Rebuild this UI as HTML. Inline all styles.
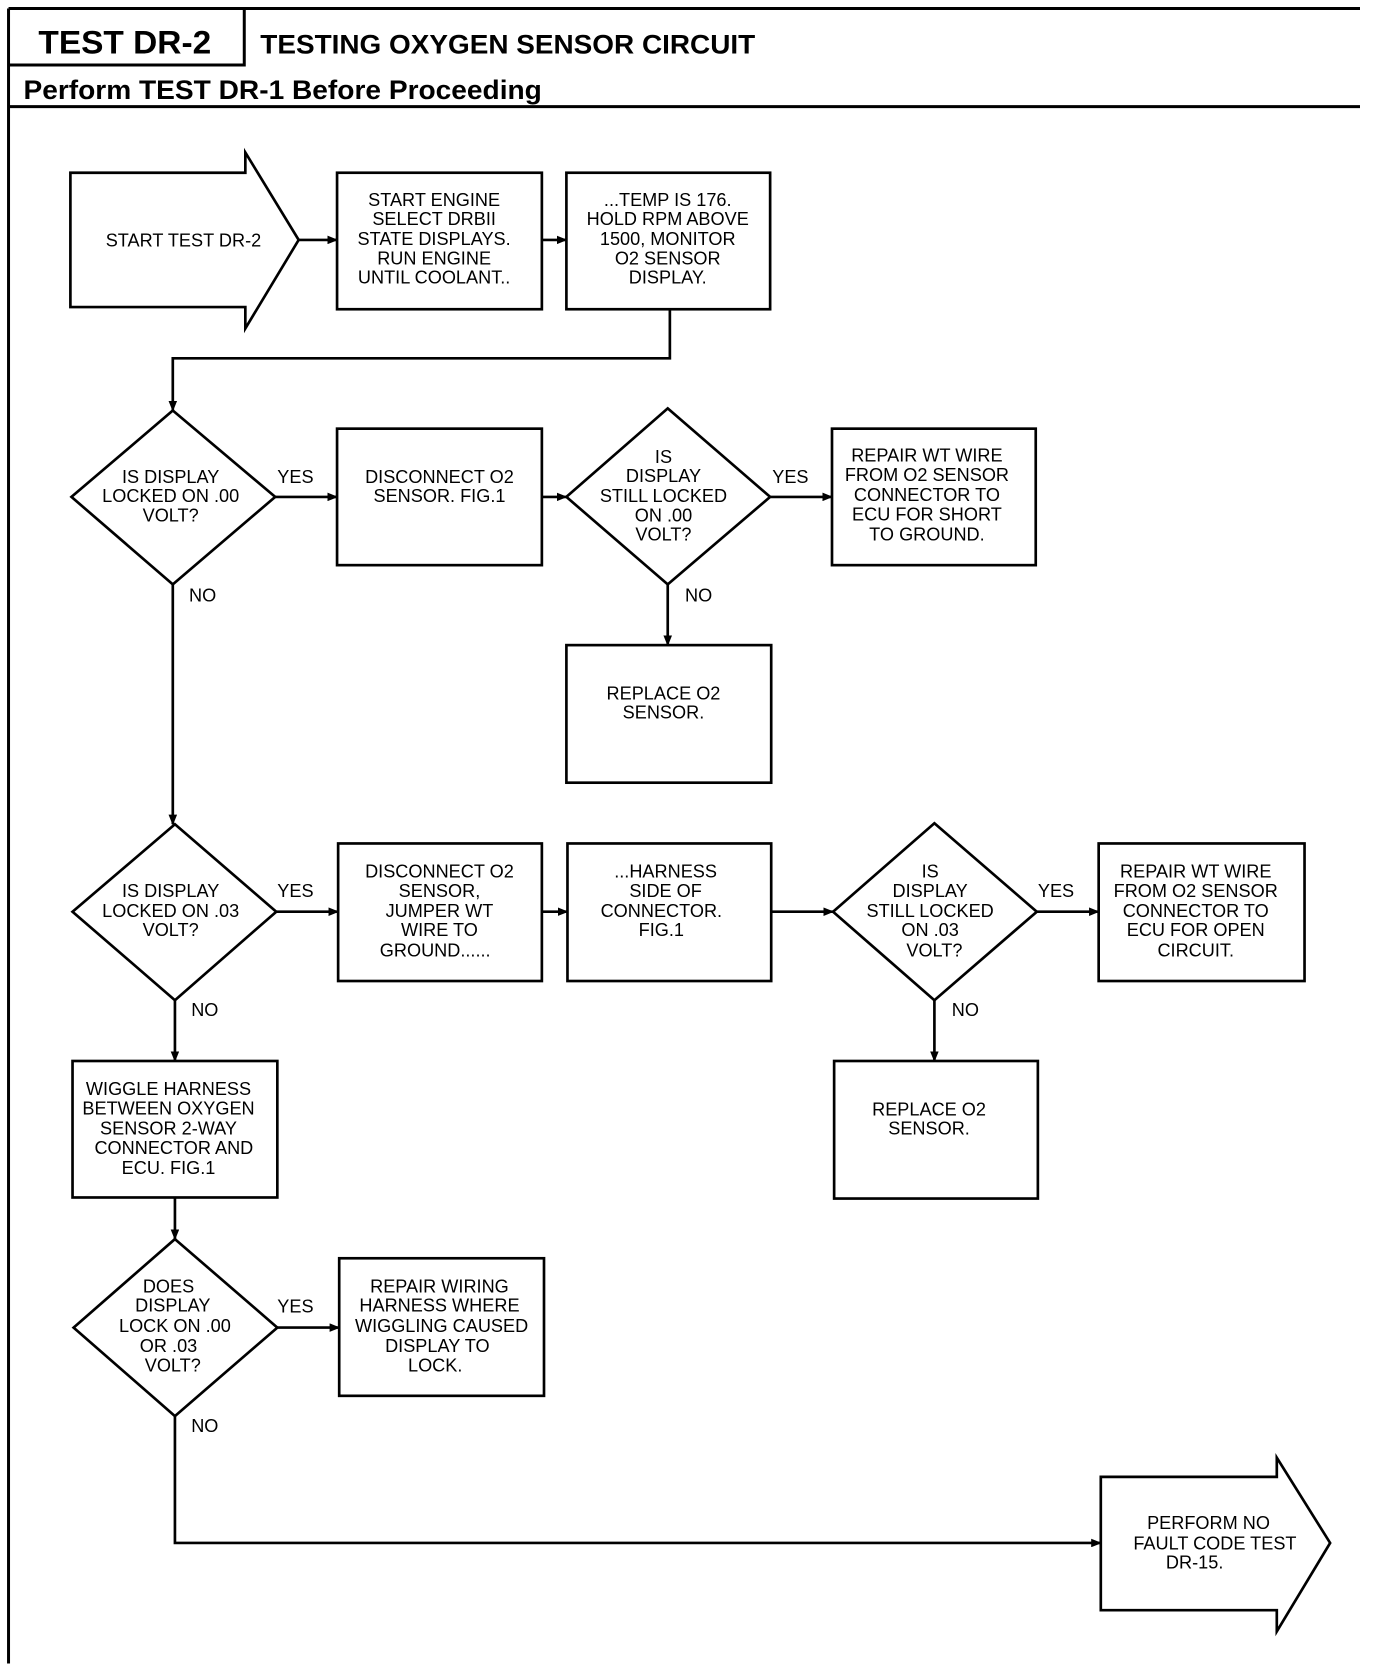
<!DOCTYPE html>
<html><head><meta charset="utf-8"><style>
html,body{margin:0;padding:0;background:#fff;}
svg{display:block;}
.t{font-family:"Liberation Sans",sans-serif;font-size:17px;text-anchor:middle;fill:#000;}
.h{font-family:"Liberation Sans",sans-serif;font-weight:bold;fill:#000;}
</style></head><body>
<svg width="1376" height="1672" viewBox="0 0 1290 1568" preserveAspectRatio="none" xmlns="http://www.w3.org/2000/svg">
<defs><marker id="a" markerWidth="10" markerHeight="8" refX="9" refY="4" orient="auto" markerUnits="userSpaceOnUse"><path d="M0,0 L10,4 L0,8 z" fill="#000"/></marker></defs>
<g stroke="#000" fill="none" stroke-width="2.5">
<path d="M8,8 H1275 M8,8 V1560 M8,100 H1275 M8,61 H229 V8" stroke-width="2.8"/>
<path d="M66,162 H230 V143 L280,225 L230,308 V288 H66 Z"/>
<rect x="316" y="162" width="192" height="128"/>
<rect x="531" y="162" width="191" height="128"/>
<path d="M280,225 H316" marker-end="url(#a)"/>
<path d="M508,225 H531" marker-end="url(#a)"/>
<path d="M628,290 V336 H162 V385" marker-end="url(#a)"/>
<path d="M162,385 L258,466 L162,548 L67,466 Z"/>
<path d="M258,466 H316" marker-end="url(#a)"/>
<rect x="316" y="402" width="192" height="128"/>
<path d="M508,466 H531" marker-end="url(#a)"/>
<path d="M626,383 L722,466 L626,548 L531,466 Z"/>
<path d="M722,466 H780" marker-end="url(#a)"/>
<rect x="780" y="402" width="191" height="128"/>
<path d="M626,548 V605" marker-end="url(#a)"/>
<rect x="531" y="605" width="192" height="129"/>
<path d="M162,548 V773" marker-end="url(#a)"/>
<path d="M164,773 L259,855 L164,938 L68,855 Z"/>
<path d="M259,855 H317" marker-end="url(#a)"/>
<rect x="317" y="791" width="191" height="129"/>
<path d="M508,855 H532" marker-end="url(#a)"/>
<rect x="532" y="791" width="191" height="129"/>
<path d="M723,855 H781" marker-end="url(#a)"/>
<path d="M876,772 L972,855 L876,938 L781,855 Z"/>
<path d="M972,855 H1030" marker-end="url(#a)"/>
<rect x="1030" y="791" width="193" height="129"/>
<path d="M876,938 V995" marker-end="url(#a)"/>
<rect x="782" y="995" width="191" height="129"/>
<path d="M164,938 V995" marker-end="url(#a)"/>
<rect x="68" y="995" width="192" height="128"/>
<path d="M164,1123 V1162" marker-end="url(#a)"/>
<path d="M164,1162 L260,1245 L164,1328 L69,1245 Z"/>
<path d="M260,1245 H318" marker-end="url(#a)"/>
<rect x="318" y="1180" width="192" height="129"/>
<path d="M164,1328 V1447 H1032" marker-end="url(#a)"/>
<path d="M1032,1385 H1197 V1367 L1247,1447 L1197,1530 V1510 H1032 Z"/>
</g>
<text class="h" x="36" y="50" font-size="30" textLength="162" lengthAdjust="spacingAndGlyphs">TEST DR-2</text>
<text class="h" x="244" y="50" font-size="25" textLength="464" lengthAdjust="spacingAndGlyphs">TESTING OXYGEN SENSOR CIRCUIT</text>
<text class="h" x="22" y="93" font-size="25" textLength="486" lengthAdjust="spacingAndGlyphs">Perform TEST DR-1 Before Proceeding</text>
<g class="t">
<text x="172" y="231">START TEST DR-2</text>
<text x="407" y="193">START ENGINE</text><text x="407" y="211">SELECT DRBII</text><text x="407" y="230">STATE DISPLAYS.</text><text x="407" y="248">RUN ENGINE</text><text x="407" y="266">UNTIL COOLANT..</text>
<text x="626" y="193">...TEMP IS 176.</text><text x="626" y="211">HOLD RPM ABOVE</text><text x="626" y="230">1500, MONITOR</text><text x="626" y="248">O2 SENSOR</text><text x="626" y="266">DISPLAY.</text>
<text x="160" y="453">IS DISPLAY</text><text x="160" y="471">LOCKED ON .00</text><text x="160" y="489">VOLT?</text>
<text x="277" y="453">YES</text><text x="190" y="564">NO</text>
<text x="412" y="453">DISCONNECT O2</text><text x="412" y="471">SENSOR. FIG.1</text>
<text x="622" y="434">IS</text><text x="622" y="452">DISPLAY</text><text x="622" y="471">STILL LOCKED</text><text x="622" y="489">ON .00</text><text x="622" y="507">VOLT?</text>
<text x="741" y="453">YES</text><text x="655" y="564">NO</text>
<text x="869" y="433">REPAIR WT WIRE</text><text x="869" y="451">FROM O2 SENSOR</text><text x="869" y="470">CONNECTOR TO</text><text x="869" y="488">ECU FOR SHORT</text><text x="869" y="507">TO GROUND.</text>
<text x="622" y="656">REPLACE O2</text><text x="622" y="674">SENSOR.</text>
<text x="160" y="841">IS DISPLAY</text><text x="160" y="860">LOCKED ON .03</text><text x="160" y="878">VOLT?</text>
<text x="277" y="841">YES</text><text x="192" y="953">NO</text>
<text x="412" y="823">DISCONNECT O2</text><text x="412" y="841">SENSOR,</text><text x="412" y="860">JUMPER WT</text><text x="412" y="878">WIRE TO</text><text x="408" y="897">GROUND......</text>
<text x="624" y="823">...HARNESS</text><text x="624" y="841">SIDE OF</text><text x="620" y="860">CONNECTOR.</text><text x="620" y="878">FIG.1</text>
<text x="872" y="823">IS</text><text x="872" y="841">DISPLAY</text><text x="872" y="860">STILL LOCKED</text><text x="872" y="878">ON .03</text><text x="876" y="897">VOLT?</text>
<text x="990" y="841">YES</text><text x="905" y="953">NO</text>
<text x="1121" y="823">REPAIR WT WIRE</text><text x="1121" y="841">FROM O2 SENSOR</text><text x="1121" y="860">CONNECTOR TO</text><text x="1121" y="878">ECU FOR OPEN</text><text x="1121" y="897">CIRCUIT.</text>
<text x="871" y="1046">REPLACE O2</text><text x="871" y="1064">SENSOR.</text>
<text x="158" y="1027">WIGGLE HARNESS</text><text x="158" y="1045">BETWEEN OXYGEN</text><text x="158" y="1064">SENSOR 2-WAY</text><text x="163" y="1082">CONNECTOR AND</text><text x="158" y="1101">ECU. FIG.1</text>
<text x="158" y="1212">DOES</text><text x="162" y="1230">DISPLAY</text><text x="164" y="1249">LOCK ON .00</text><text x="158" y="1268">OR .03</text><text x="162" y="1286">VOLT?</text>
<text x="277" y="1231">YES</text><text x="192" y="1343">NO</text>
<text x="412" y="1212">REPAIR WIRING</text><text x="412" y="1230">HARNESS WHERE</text><text x="414" y="1249">WIGGLING CAUSED</text><text x="410" y="1268">DISPLAY TO</text><text x="408" y="1286">LOCK.</text>
<text x="1133" y="1434">PERFORM NO</text><text x="1139" y="1453">FAULT CODE TEST</text><text x="1120" y="1471">DR-15.</text>
</g>
</svg>
</body></html>
